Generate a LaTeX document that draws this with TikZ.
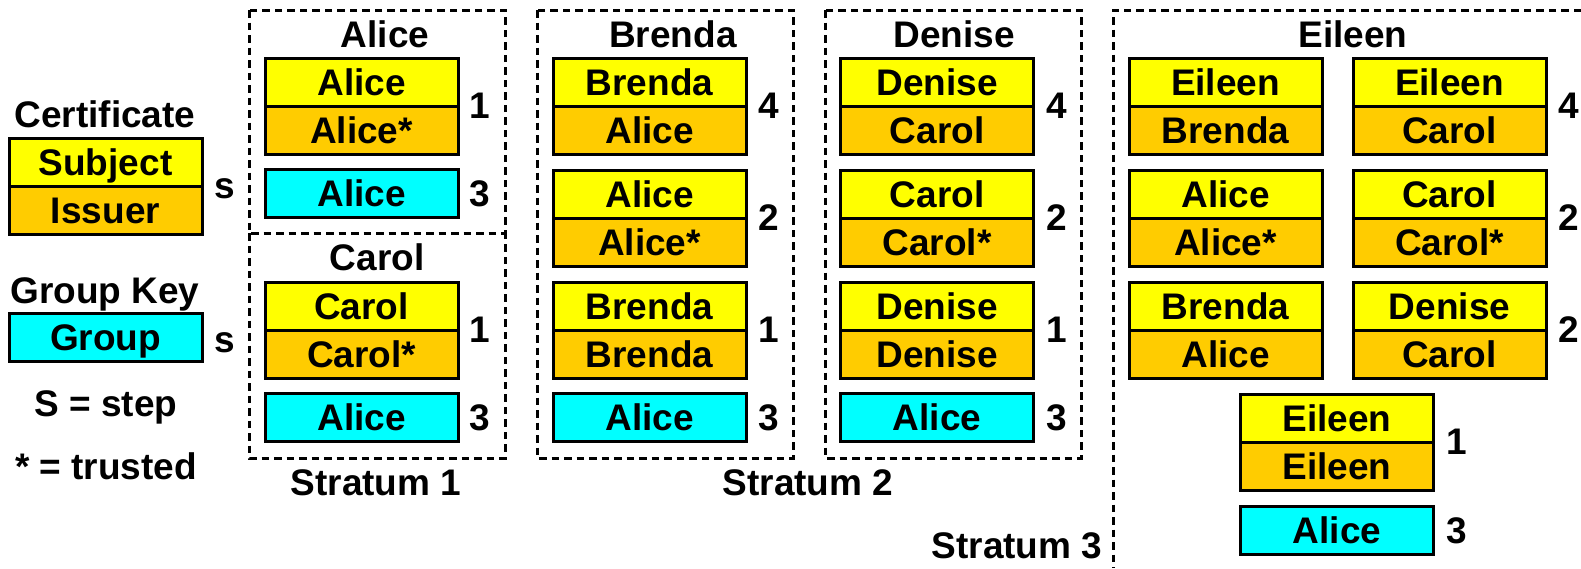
\documentclass[tikz,border=0pt]{standalone}
\usepackage{fontspec}
\setmainfont{Liberation Sans}
\definecolor{subjc}{HTML}{FFFF00}
\definecolor{issc}{HTML}{FFCC00}
\definecolor{grpc}{HTML}{00FFFF}
\tikzset{
  txt/.style={font=\fontsize{37}{40}\selectfont\bfseries, inner sep=0pt},
  cell/.style={txt, draw, line width=3pt, minimum height=48pt, text height=26pt, text depth=0pt},
  subjcell/.style={cell, fill=subjc},
  isscell/.style={cell, fill=issc},
  grpcell/.style={cell, fill=grpc},
  num/.style={txt, text height=25pt, text depth=0pt},
  title/.style={txt, anchor=base},
  stratbox/.style={draw, line width=3pt, dash pattern=on 7.5pt off 5pt},
}
\newcommand\certpair[6]{%
  \node[subjcell, minimum width=#4] (#1s) at (#2,#3+24) {#5};
  \node[isscell, minimum width=#4] (#1i) at (#2,#3+72) {#6};
}
\newcommand\grpkey[5]{%
  \node[grpcell, minimum width=#4] (#1) at (#2,#3+24.5) {#5};
}
\begin{document}
\begin{tikzpicture}[x=1pt,y=-1pt]
\useasboundingbox (0,0) rectangle (1581,568);

% stratum boxes
\draw[stratbox] (249,10) rectangle (505,233);
\draw[stratbox] (249,233) -- (249,458) -- (505,458) -- (505,233);
\draw[stratbox] (537,10) rectangle (793,458);
\draw[stratbox] (825,10) rectangle (1081,458);
\draw[stratbox] (1581,10) -- (1113,10) -- (1113,568);

% legend
\node[title] (lcert) at (105,127) {Certificate};
\certpair{leg}{105.5}{138}{193}{Subject}{Issuer}
\node[title] (ls1) at (225,198) {s};
\node[title] (lgk) at (105,303) {Group Key};
\grpkey{lgrp}{105.5}{313}{193}{Group}
\node[title] (ls2) at (225,352) {s};
\node[title] (lstep) at (106,416) {S = step};
\node[title] (ltrust) at (106,479) {* = trusted};

% Alice
\node[title] (talice) at (385,47) {Alice};
\certpair{a1}{361.5}{58}{193}{Alice}{Alice*}
\node[num] (an1) at (480,106) {1};
\grpkey{ag}{361.5}{169}{193}{Alice}
\node[num] (an3) at (480,193.5) {3};

% Carol
\node[title] (tcarol) at (377,270) {Carol};
\certpair{c1}{361.5}{282}{193}{Carol}{Carol*}
\node[num] (cn1) at (480,330) {1};
\grpkey{cg}{361.5}{393}{193}{Alice}
\node[num] (cn3) at (480,417.5) {3};
\node[title] (s1) at (376,495) {Stratum 1};

% Brenda
\node[title] (tbrenda) at (673,47) {Brenda};
\certpair{b4}{649.5}{58}{193}{Brenda}{Alice}
\node[num] (bn4) at (769,106) {4};
\certpair{b2}{649.5}{170}{193}{Alice}{Alice*}
\node[num] (bn2) at (769,218) {2};
\certpair{b1}{649.5}{282}{193}{Brenda}{Brenda}
\node[num] (bn1) at (769,330) {1};
\grpkey{bg}{649.5}{393}{193}{Alice}
\node[num] (bn3) at (769,417.5) {3};

% Denise
\node[title] (tdenise) at (954,47) {Denise};
\certpair{d4}{937}{58}{193}{Denise}{Carol}
\node[num] (dn4) at (1057,106) {4};
\certpair{d2}{937}{170}{193}{Carol}{Carol*}
\node[num] (dn2) at (1057,218) {2};
\certpair{d1}{937}{282}{193}{Denise}{Denise}
\node[num] (dn1) at (1057,330) {1};
\grpkey{dg}{937}{393}{193}{Alice}
\node[num] (dn3) at (1057,417.5) {3};
\node[title] (s2) at (808,495) {Stratum 2};

% Eileen
\node[title] (teileen) at (1353,47) {Eileen};
\certpair{e4a}{1225.5}{58}{193}{Eileen}{Brenda}
\certpair{e4b}{1449.5}{58}{193}{Eileen}{Carol}
\node[num] (en4) at (1569,106) {4};
\certpair{e2a}{1225.5}{170}{193}{Alice}{Alice*}
\certpair{e2b}{1449.5}{170}{193}{Carol}{Carol*}
\node[num] (en2a) at (1569,218) {2};
\certpair{e2c}{1225.5}{282}{193}{Brenda}{Alice}
\certpair{e2d}{1449.5}{282}{193}{Denise}{Carol}
\node[num] (en2b) at (1569,330) {2};
\certpair{e1}{1337}{394}{193}{Eileen}{Eileen}
\node[num] (en1) at (1457,442) {1};
\grpkey{eg}{1337}{506}{193}{Alice}
\node[num] (en3) at (1457,530.5) {3};
\node[title] (s3) at (1017,558) {Stratum 3};
\end{tikzpicture}
\end{document}
